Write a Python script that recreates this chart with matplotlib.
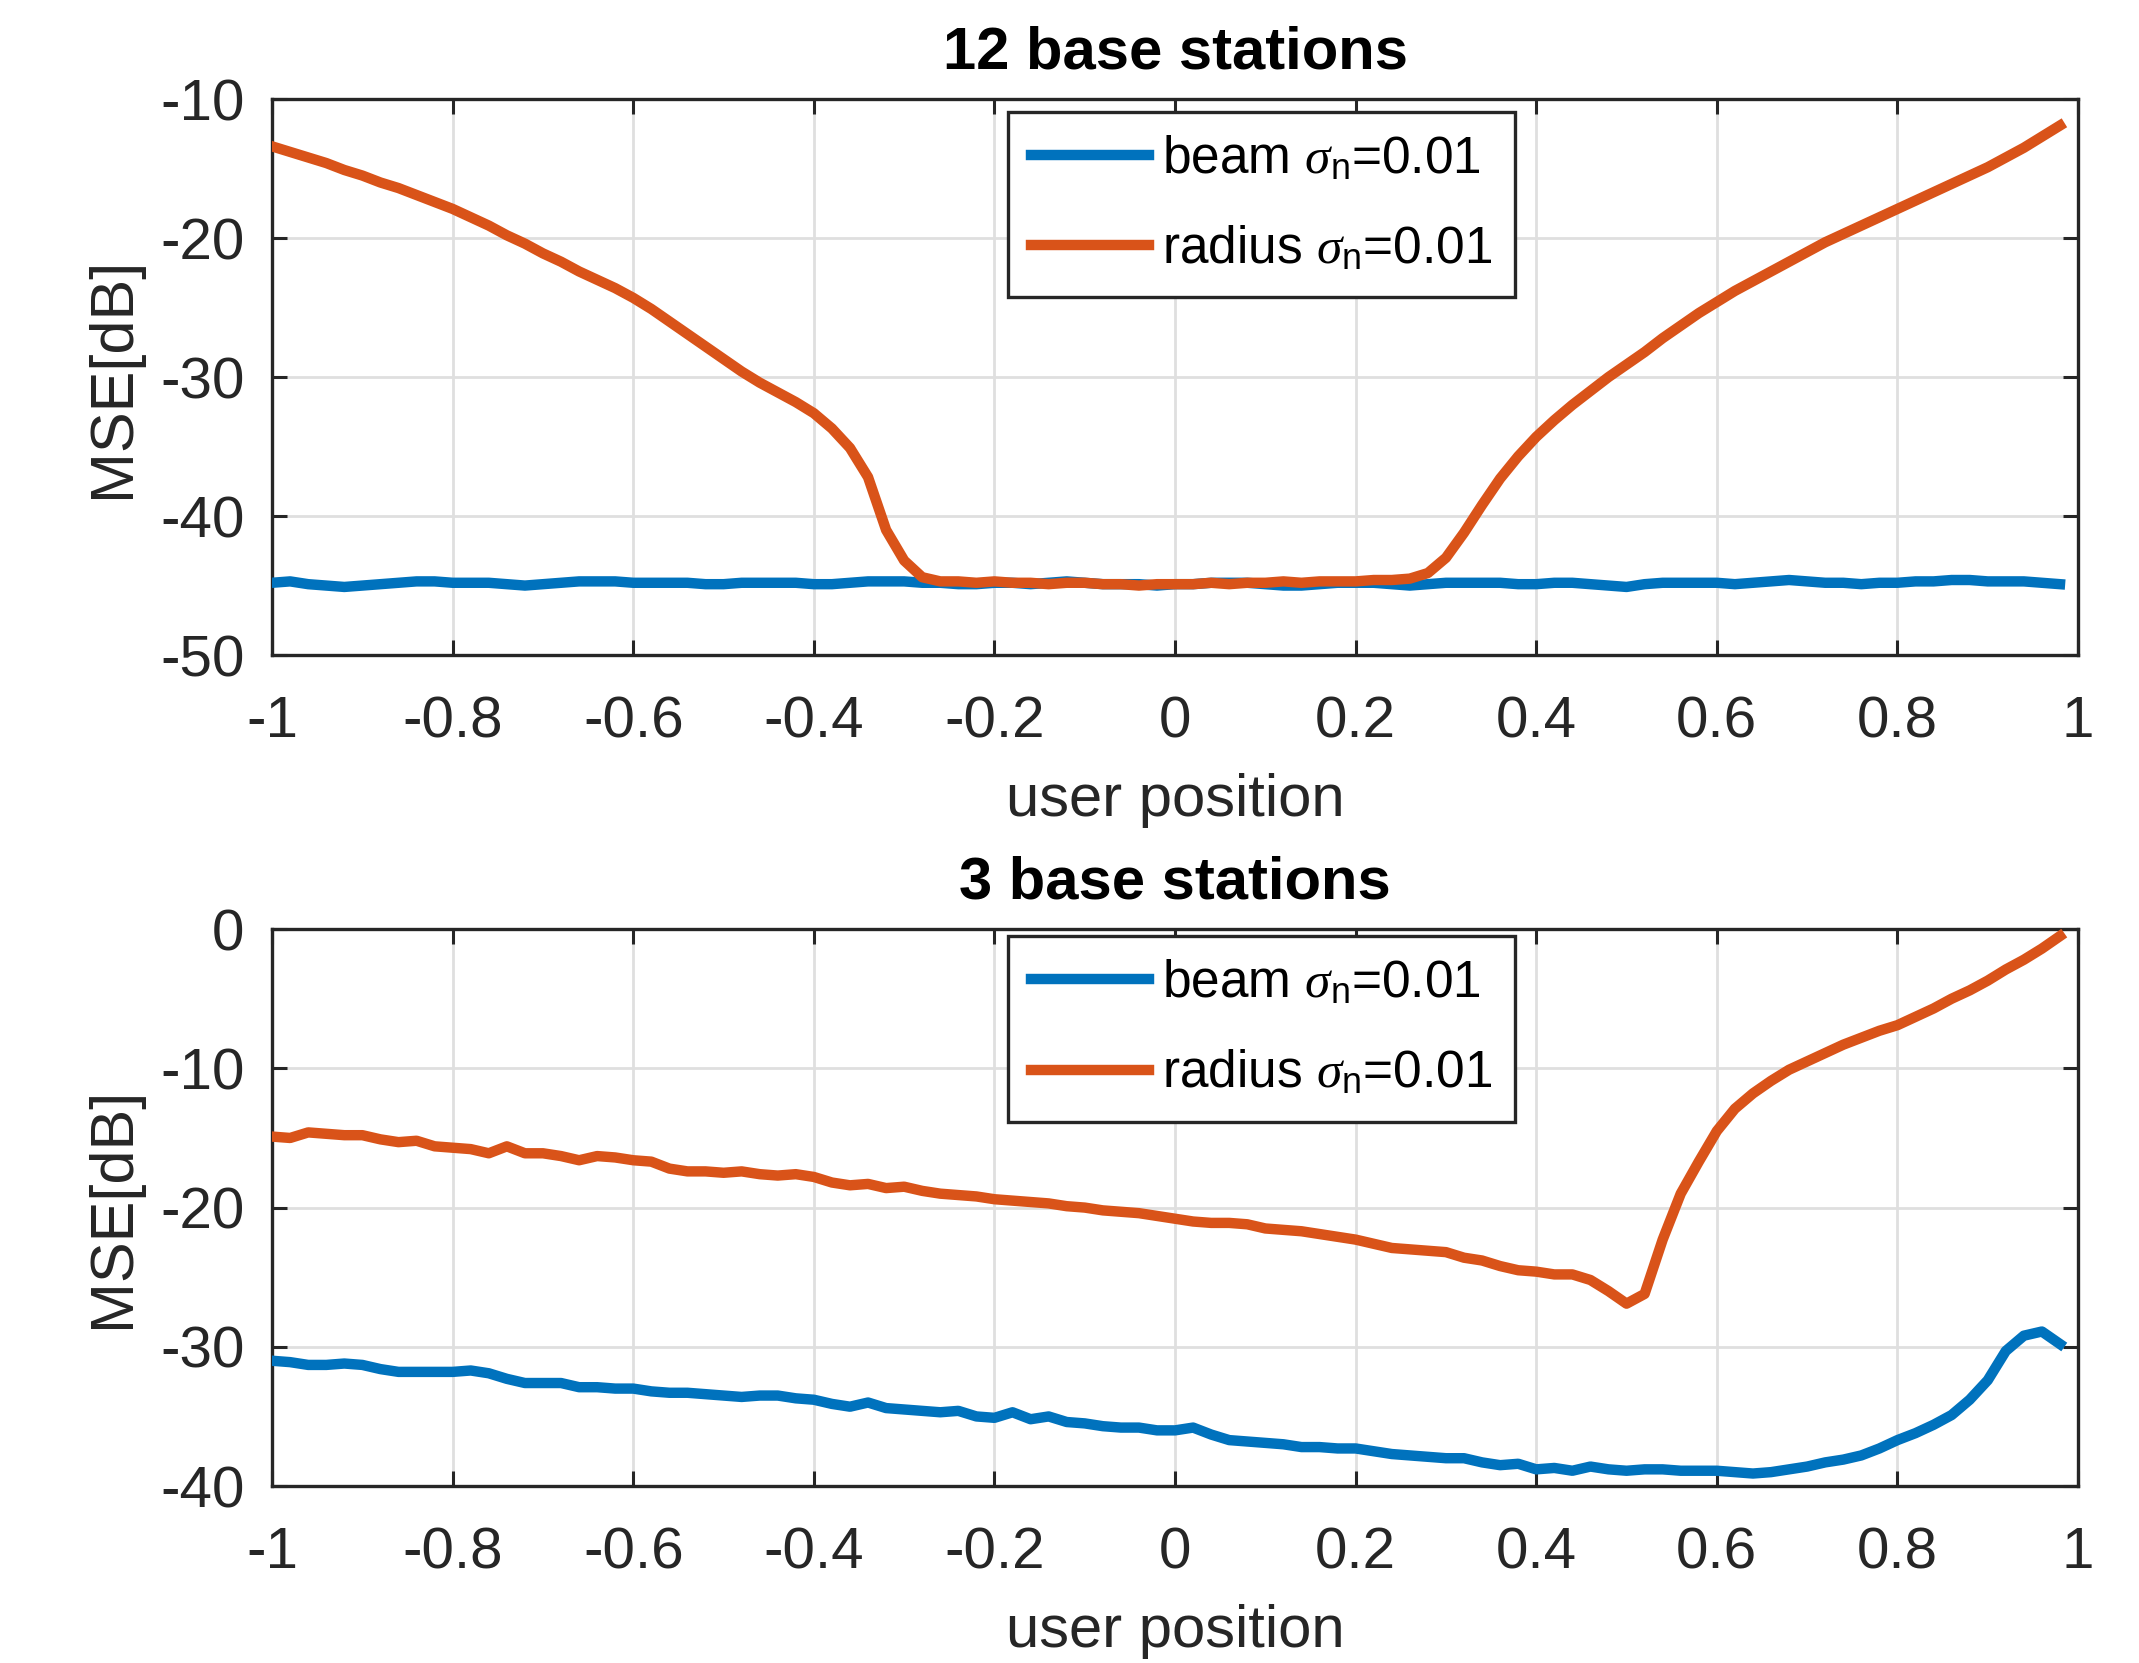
import numpy as np
import matplotlib
matplotlib.use('Agg')
import matplotlib.pyplot as plt

# user positions -1 .. 0.98 in steps of 0.02
pos = np.round(np.arange(-1.0, 0.99, 0.02), 2)

# 12 base stations
beam12 = [-44.8, -44.7, -44.9, -45.0, -45.1, -45.0, -44.9, -44.8, -44.7, -44.7,
          -44.8, -44.8, -44.8, -44.9, -45.0, -44.9, -44.8, -44.7, -44.7, -44.7,
          -44.8, -44.8, -44.8, -44.8, -44.9, -44.9, -44.8, -44.8, -44.8, -44.8,
          -44.9, -44.9, -44.8, -44.7, -44.7, -44.7, -44.8, -44.8, -44.9, -44.9,
          -44.8, -44.8, -44.9, -44.8, -44.7, -44.8, -44.9, -44.9, -44.9, -45.0,
          -44.9, -44.9, -44.8, -44.8, -44.8, -44.9, -45.0, -45.0, -44.9, -44.8,
          -44.8, -44.8, -44.9, -45.0, -44.9, -44.8, -44.8, -44.8, -44.8, -44.9,
          -44.9, -44.8, -44.8, -44.9, -45.0, -45.1, -44.9, -44.8, -44.8, -44.8,
          -44.8, -44.9, -44.8, -44.7, -44.6, -44.7, -44.8, -44.8, -44.9, -44.8,
          -44.8, -44.7, -44.7, -44.6, -44.6, -44.7, -44.7, -44.7, -44.8, -44.9]
radius12 = [-13.4, -13.8, -14.2, -14.6, -15.1, -15.5, -16.0, -16.4, -16.9, -17.4,
            -17.9, -18.5, -19.1, -19.8, -20.4, -21.1, -21.7, -22.4, -23.0, -23.6,
            -24.3, -25.1, -26.0, -26.9, -27.8, -28.7, -29.6, -30.4, -31.1, -31.8,
            -32.6, -33.7, -35.1, -37.2, -41.0, -43.2, -44.4, -44.7, -44.7, -44.8,
            -44.7, -44.8, -44.8, -44.9, -44.8, -44.8, -44.9, -44.9, -45.0, -44.9,
            -44.9, -44.9, -44.8, -44.9, -44.8, -44.8, -44.7, -44.8, -44.7, -44.7,
            -44.7, -44.6, -44.6, -44.5, -44.1, -43.0, -41.2, -39.2, -37.3, -35.7,
            -34.3, -33.1, -32.0, -31.0, -30.0, -29.1, -28.2, -27.2, -26.3, -25.4,
            -24.6, -23.8, -23.1, -22.4, -21.7, -21.0, -20.3, -19.7, -19.1, -18.5,
            -17.9, -17.3, -16.7, -16.1, -15.5, -14.9, -14.2, -13.5, -12.7, -11.9]

# 3 base stations
beam3 = [-31.0, -31.1, -31.3, -31.3, -31.2, -31.3, -31.6, -31.8, -31.8, -31.8,
         -31.8, -31.7, -31.9, -32.3, -32.6, -32.6, -32.6, -32.9, -32.9, -33.0,
         -33.0, -33.2, -33.3, -33.3, -33.4, -33.5, -33.6, -33.5, -33.5, -33.7,
         -33.8, -34.1, -34.3, -34.0, -34.4, -34.5, -34.6, -34.7, -34.6, -35.0,
         -35.1, -34.7, -35.2, -35.0, -35.4, -35.5, -35.7, -35.8, -35.8, -36.0,
         -36.0, -35.8, -36.3, -36.7, -36.8, -36.9, -37.0, -37.2, -37.2, -37.3,
         -37.3, -37.5, -37.7, -37.8, -37.9, -38.0, -38.0, -38.3, -38.5, -38.4,
         -38.8, -38.7, -38.9, -38.6, -38.8, -38.9, -38.8, -38.8, -38.9, -38.9,
         -38.9, -39.0, -39.1, -39.0, -38.8, -38.6, -38.3, -38.1, -37.8, -37.3,
         -36.7, -36.2, -35.6, -34.9, -33.8, -32.4, -30.3, -29.2, -28.9, -29.8]
radius3 = [-14.9, -15.0, -14.6, -14.7, -14.8, -14.8, -15.1, -15.3, -15.2, -15.6,
           -15.7, -15.8, -16.1, -15.6, -16.1, -16.1, -16.3, -16.6, -16.3, -16.4,
           -16.6, -16.7, -17.2, -17.4, -17.4, -17.5, -17.4, -17.6, -17.7, -17.6,
           -17.8, -18.2, -18.4, -18.3, -18.6, -18.5, -18.8, -19.0, -19.1, -19.2,
           -19.4, -19.5, -19.6, -19.7, -19.9, -20.0, -20.2, -20.3, -20.4, -20.6,
           -20.8, -21.0, -21.1, -21.1, -21.2, -21.5, -21.6, -21.7, -21.9, -22.1,
           -22.3, -22.6, -22.9, -23.0, -23.1, -23.2, -23.6, -23.8, -24.2, -24.5,
           -24.6, -24.8, -24.8, -25.2, -26.0, -26.9, -26.2, -22.3, -19.0, -16.7,
           -14.5, -12.9, -11.8, -10.9, -10.1, -9.5, -8.9, -8.3, -7.8, -7.3,
           -6.9, -6.3, -5.7, -5.0, -4.4, -3.7, -2.9, -2.2, -1.4, -0.5]

blue = '#0072BD'
orange = '#D95319'
dark = '#262626'

plt.rcParams['font.family'] = ['Liberation Sans', 'DejaVu Sans']
plt.rcParams['axes.unicode_minus'] = False
plt.rcParams['mathtext.fontset'] = 'custom'
plt.rcParams['mathtext.it'] = 'Liberation Serif:italic'
plt.rcParams['mathtext.rm'] = 'Liberation Sans'

fig = plt.figure(figsize=(21.39, 16.63), dpi=100)
ax1 = fig.add_axes([0.1272, 0.6061, 0.8443, 0.3343])
ax2 = fig.add_axes([0.1272, 0.1064, 0.8443, 0.3349])

panels = [
    (ax1, beam12, radius12, '12 base stations', (-50, -10), 0.977),
    (ax2, beam3, radius3, '3 base stations', (-40, 0), 0.987),
]

for ax, b, r, title, ylim, legtop in panels:
    ax.plot(pos, b, color=blue, lw=7.5, label=r'beam $\sigma_{\rm n}$=0.01', zorder=3)
    ax.plot(pos, r, color=orange, lw=7.5, label=r'radius $\sigma_{\rm n}$=0.01', zorder=3)
    ax.set_xlim(-1, 1)
    ax.set_ylim(*ylim)
    ax.set_xticks(np.arange(-1, 1.01, 0.2))
    ax.set_xticklabels(['-1', '-0.8', '-0.6', '-0.4', '-0.2', '0',
                        '0.2', '0.4', '0.6', '0.8', '1'])
    ax.set_yticks(np.arange(ylim[0], ylim[1] + 1, 10))
    ax.grid(True, color='#dfdfdf', lw=2)
    ax.set_axisbelow(True)
    ax.tick_params(direction='in', top=True, right=True, length=11, width=2.2,
                   labelsize=42, colors=dark)
    ax.tick_params(axis='x', pad=29)
    ax.tick_params(axis='y', pad=20)
    for s in ax.spines.values():
        s.set_linewidth(2.4)
        s.set_color(dark)
    ax.set_title(title, fontsize=43, fontweight='bold', pad=22)
    ax.set_xlabel('user position', fontsize=43, color=dark, labelpad=17)
    ax.set_ylabel('MSE[dB]', fontsize=44, color=dark, labelpad=13)
    leg = ax.legend(loc='upper left', bbox_to_anchor=(0.4075, legtop),
                    borderaxespad=0, fontsize=37, fancybox=False,
                    edgecolor=dark, framealpha=1, handlelength=2.3,
                    handletextpad=0.25, labelspacing=0.8, borderpad=0.45)
    leg.get_frame().set_linewidth(2.4)

fig.savefig('out.png', dpi=100, facecolor='white')
